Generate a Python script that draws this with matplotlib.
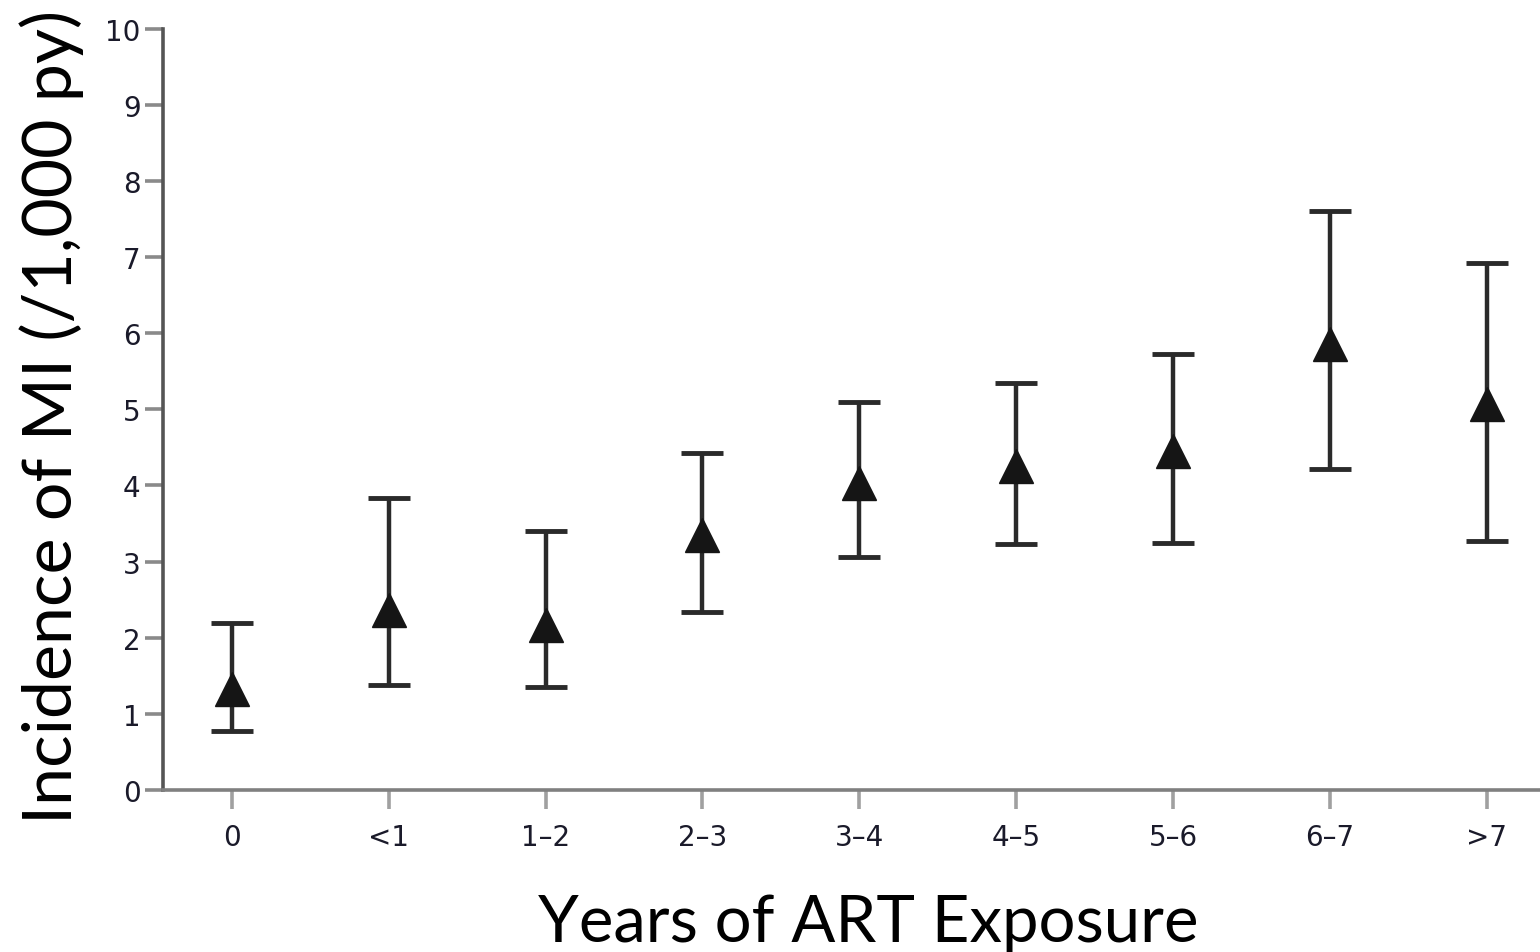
import numpy as np
import matplotlib
matplotlib.use("Agg")
import matplotlib.pyplot as plt

# incidence of MI per 1,000 person-years by years of ART exposure
groups = ["0", "<1", "1\u20132", "2\u20133", "3\u20134", "4\u20135", "5\u20136", "6\u20137", ">7"]
rate = [1.33, 2.37, 2.17, 3.35, 4.03, 4.26, 4.45, 5.86, 5.07]
ci_low = [0.78, 1.38, 1.35, 2.34, 3.06, 3.23, 3.25, 4.22, 3.27]
ci_high = [2.19, 3.84, 3.40, 4.42, 5.10, 5.35, 5.72, 7.60, 6.92]

x = np.arange(len(groups))
rate = np.array(rate)
yerr = [rate - np.array(ci_low), np.array(ci_high) - rate]

fig = plt.figure(figsize=(15.4, 9.53), dpi=100)
ax = fig.add_axes([0.1058, 0.170, 0.8942, 0.799])

ax.errorbar(x, rate, yerr=yerr, fmt="none", ecolor="#2a2a2a",
            elinewidth=3.2, capsize=15, capthick=3.5, zorder=2)
ax.plot(x, rate, linestyle="none", marker="^", markersize=24,
        color="#151515", zorder=3)

ax.set_xlim(-0.44, 8.34)
ax.set_ylim(0, 10)
ax.set_yticks(range(0, 11))
ax.set_xticks(x)
ax.set_xticklabels(groups)

for s in ["top", "right"]:
    ax.spines[s].set_visible(False)
ax.spines["left"].set_color("#555555")
ax.spines["left"].set_linewidth(2.6)
ax.spines["bottom"].set_color("#808080")
ax.spines["bottom"].set_linewidth(2.6)

tick_family = ["DejaVu Sans Condensed", "DejaVu Sans"]
ax.tick_params(axis="y", length=13, width=2.6, color="#8a8a8a", pad=3)
ax.tick_params(axis="x", length=14, width=2.6, color="#a0a0a0", pad=10)
for lab in ax.get_xticklabels() + ax.get_yticklabels():
    lab.set_fontfamily(tick_family)
    lab.set_fontsize(20)
    lab.set_color("#1a1a2a")

label_font = ["Lato", "DejaVu Sans"]
fig.text(0.0335, 0.5624, "Incidence of MI (/1,000 py)", rotation=90,
         ha="center", va="center", fontsize=49, family=label_font)
fig.text(0.5636, 0.031, "Years of ART Exposure", ha="center", va="center",
         fontsize=47, family=label_font)

fig.savefig("out.png", dpi=100, facecolor="white")
